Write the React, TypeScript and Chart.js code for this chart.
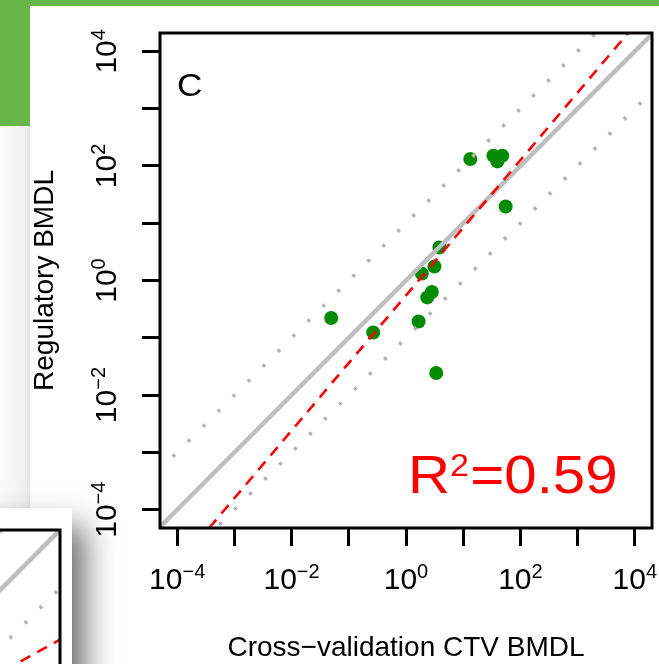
import React, { useEffect, useRef } from "react";
import { Chart, registerables } from "chart.js";

Chart.register(...registerables);

// ---------------- data: panel C ----------------
const ctvBmdl = [0.0492, 0.267, 1.66, 3.37, 2.35, 2.83, 1.89, 3.14, 3.84, 55.2, 13.3, 33.7, 48.2, 39.5];
const regulatoryBmdl = [0.221, 0.124, 0.193, 0.0243, 0.507, 0.63, 1.32, 1.76, 3.78, 19.6, 132, 151, 151, 120];
const tickExponents = [-4, -3, -2, -1, 0, 1, 2, 3, 4];
const labelExponents = [-4, -2, 0, 2, 4];
const xExpRange = [-4.3, 4.3];
const yExpRange = [-4.32, 4.32];
const fitSlope = 1.18;
const fitIntercept = -0.26;
const foldBand = 1; // decades above / below identity
const rSquaredValue = "0.59";
const panelLetter = "C";
const xTitle = "Cross\u2212validation CTV BMDL";
const yTitle = "Regulatory BMDL";

// ---------------- data: neighbouring panel fragment ----------------
const fragXExpRange = [-4.1, 4.3];
const fragYExpRange = [-2.2, 4.3];
const fragFitSlope = 0.55;
const fragFitIntercept = 0.05;

const FONT = '"Liberation Sans", Arial, Helvetica, sans-serif';
const GREEN = "#68b64b";
const POINT_GREEN = "#008b00";
const GRAY = "#bebebe";
const DOT_GRAY = "#b4b4b4";
const DOT_DASH = [3.2, 18];

const p = (e: number) => Math.pow(10, e);

function drawPower(ctx: CanvasRenderingContext2D, exp: number, baseSize: number, supSize: number, raise: number) {
  const base = "10";
  const sup = exp < 0 ? "\u2212" + Math.abs(exp) : String(exp);
  ctx.font = `${baseSize}px ${FONT}`;
  const wb = ctx.measureText(base).width;
  ctx.font = `${supSize}px ${FONT}`;
  const ws = ctx.measureText(sup).width;
  const start = -(wb + ws) / 2;
  ctx.textAlign = "left";
  ctx.textBaseline = "alphabetic";
  ctx.fillStyle = "#000";
  ctx.font = `${baseSize}px ${FONT}`;
  ctx.fillText(base, start, 0);
  ctx.font = `${supSize}px ${FONT}`;
  ctx.fillText(sup, start + wb, -raise);
}

const framePlugin = {
  id: "frame",
  afterDatasetsDraw(chart: any) {
    const { ctx, chartArea: a } = chart;
    ctx.save();
    ctx.strokeStyle = "#000";
    ctx.lineWidth = 3;
    ctx.strokeRect(a.left, a.top, a.right - a.left, a.bottom - a.top);
    ctx.restore();
  },
};

const textPlugin = {
  id: "panelText",
  afterDraw(chart: any) {
    const { ctx, chartArea: a, scales } = chart;
    const xs = scales.x;
    const ys = scales.y;
    ctx.save();
    for (const e of labelExponents) {
      const px = xs.getPixelForValue(p(e));
      ctx.save();
      ctx.translate(px, a.bottom + 61);
      drawPower(ctx, e, 30, 20, 11);
      ctx.restore();
      const py = ys.getPixelForValue(p(e));
      ctx.save();
      ctx.translate(a.left - 44, py);
      ctx.rotate(-Math.PI / 2);
      drawPower(ctx, e, 30, 20, 11);
      ctx.restore();
    }
    // axis titles
    ctx.fillStyle = "#000";
    ctx.font = `28px ${FONT}`;
    ctx.textAlign = "center";
    ctx.textBaseline = "alphabetic";
    ctx.fillText(xTitle, (a.left + a.right) / 2, a.bottom + 128);
    ctx.save();
    ctx.translate(a.left - 107, (a.top + a.bottom) / 2);
    ctx.rotate(-Math.PI / 2);
    ctx.fillText(yTitle, 0, 0);
    ctx.restore();
    // panel letter
    ctx.save();
    ctx.translate(a.left + 17, a.top + 63);
    ctx.scale(1.1, 1);
    ctx.textAlign = "left";
    ctx.font = `32px ${FONT}`;
    ctx.fillText(panelLetter, 0, 0);
    ctx.restore();
    // R^2
    ctx.save();
    ctx.translate(a.right - 244, a.bottom - 35);
    ctx.scale(1.1, 1);
    ctx.fillStyle = "#ff0000";
    ctx.textAlign = "left";
    ctx.font = `53px ${FONT}`;
    const wR = ctx.measureText("R").width;
    ctx.fillText("R", 0, 0);
    ctx.font = `31px ${FONT}`;
    const w2 = ctx.measureText("2").width;
    ctx.fillText("2", wR, -17);
    ctx.font = `53px ${FONT}`;
    ctx.fillText("=" + rSquaredValue, wR + w2 + 1, 0);
    ctx.restore();
    ctx.restore();
  },
};

function lineDs(data: { x: number; y: number }[], color: string, width: number, dash: number[], offset: number, order: number) {
  return {
    type: "scatter",
    data,
    showLine: true,
    pointRadius: 0,
    pointHoverRadius: 0,
    borderColor: color,
    borderWidth: width,
    borderDash: dash,
    borderDashOffset: offset,
    borderCapStyle: "butt",
    tension: 0,
    order,
  };
}

function mainConfig(): any {
  const [x0, x1] = xExpRange;
  const [y0, y1] = yExpRange;
  const points = ctvBmdl.map((x, i) => ({ x, y: regulatoryBmdl[i] }));
  const identity = [
    { x: p(y0), y: p(y0) },
    { x: p(y1), y: p(y1) },
  ];
  const upper = [
    { x: p(x0), y: p(x0 + foldBand) },
    { x: p(y1 - foldBand), y: p(y1) },
  ];
  const lower = [
    { x: p(y0 + foldBand), y: p(y0) },
    { x: p(x1), y: p(x1 - foldBand) },
  ];
  const fa = (y0 - fitIntercept) / fitSlope;
  const fb = (y1 - fitIntercept) / fitSlope;
  const fit = [
    { x: p(fa), y: p(fitSlope * fa + fitIntercept) },
    { x: p(fb), y: p(fitSlope * fb + fitIntercept) },
  ];
  return {
    type: "scatter",
    data: {
      datasets: [
        {
          data: points,
          backgroundColor: POINT_GREEN,
          borderWidth: 0,
          pointRadius: 7,
          pointHoverRadius: 7,
          order: 5,
        },
        lineDs(identity, GRAY, 4.5, [], 0, 4),
        lineDs(upper, DOT_GRAY, 3.6, DOT_DASH, 3, 3),
        lineDs(lower, DOT_GRAY, 3.6, DOT_DASH, 16.5, 3),
        lineDs(fit, "#ff0000", 2.6, [11, 8], 0, 2),
      ],
    },
    options: {
      animation: false,
      responsive: false,
      devicePixelRatio: 1,
      events: [],
      layout: { padding: { left: 142, top: 33, right: 4, bottom: 0 } },
      plugins: { legend: { display: false }, tooltip: { enabled: false } },
      scales: {
        x: {
          type: "logarithmic",
          position: "bottom",
          min: p(x0),
          max: p(x1),
          afterBuildTicks: (s: any) => {
            s.ticks = tickExponents.map((e) => ({ value: p(e) }));
          },
          afterFit: (s: any) => {
            s.height = 136;
          },
          ticks: { display: false },
          grid: { display: true, drawOnChartArea: false, drawTicks: true, tickLength: 18, tickWidth: 3, tickColor: "#000" },
          border: { display: false },
        },
        y: {
          type: "logarithmic",
          position: "left",
          min: p(y0),
          max: p(y1),
          afterBuildTicks: (s: any) => {
            s.ticks = tickExponents.map((e) => ({ value: p(e) }));
          },
          afterFit: (s: any) => {
            s.width = 18;
          },
          ticks: { display: false },
          grid: { display: true, drawOnChartArea: false, drawTicks: true, tickLength: 18, tickWidth: 3, tickColor: "#000" },
          border: { display: false },
        },
      },
    },
    plugins: [framePlugin, textPlugin],
  };
}

function fragConfig(): any {
  const [x0, x1] = fragXExpRange;
  const [y0, y1] = fragYExpRange;
  const identity = [
    { x: p(x1), y: p(x1) },
    { x: p(y0), y: p(y0) },
  ];
  const lower = [
    { x: p(x1), y: p(x1 - 1) },
    { x: p(y0 + 1), y: p(y0) },
  ];
  const upper = [
    { x: p(y1 - 1), y: p(y1) },
    { x: p(x0), y: p(x0 + 1) },
  ];
  const fit = [
    { x: p(x1), y: p(fragFitSlope * x1 + fragFitIntercept) },
    { x: p(x0), y: p(fragFitSlope * x0 + fragFitIntercept) },
  ];
  return {
    type: "scatter",
    data: {
      datasets: [
        lineDs(identity, GRAY, 4.5, [], 0, 4),
        lineDs(lower, DOT_GRAY, 3.6, DOT_DASH, 17, 3),
        lineDs(upper, DOT_GRAY, 3.6, DOT_DASH, 0, 3),
        lineDs(fit, "#ff0000", 2.6, [11, 8], 4, 2),
      ],
    },
    options: {
      animation: false,
      responsive: false,
      devicePixelRatio: 1,
      events: [],
      layout: { padding: { left: 0, top: 22, right: 12, bottom: 0 } },
      plugins: { legend: { display: false }, tooltip: { enabled: false } },
      scales: {
        x: { type: "logarithmic", display: false, min: p(x0), max: p(x1) },
        y: { type: "logarithmic", display: false, min: p(y0), max: p(y1) },
      },
    },
    plugins: [framePlugin],
  };
}

export default function App() {
  const mainRef = useRef<HTMLCanvasElement>(null);
  const fragRef = useRef<HTMLCanvasElement>(null);
  useEffect(() => {
    const main = new Chart(mainRef.current as HTMLCanvasElement, mainConfig());
    const frag = new Chart(fragRef.current as HTMLCanvasElement, fragConfig());
    return () => {
      main.destroy();
      frag.destroy();
    };
  }, []);
  return (
    <div
      style={{
        position: "fixed",
        left: 0,
        top: 0,
        width: 659,
        height: 664,
        overflow: "hidden",
        background: "#fff",
      }}
    >
      <div style={{ position: "absolute", left: 0, top: 0, width: 659, height: 6, background: GREEN }} />
      <div style={{ position: "absolute", left: 0, top: 0, width: 30, height: 126, background: GREEN }} />
      <div
        style={{
          position: "absolute",
          left: 0,
          top: 126,
          width: 30,
          height: 420,
          background: "linear-gradient(to right, #fbfbfb 0%, #f4f4f4 55%, #eeeeee 88%, #e2e2e2 100%)",
        }}
      />
      <div
        style={{
          position: "absolute",
          left: -428,
          top: 508,
          width: 500,
          height: 400,
          background: "#fff",
          boxShadow: "12px 18px 30px rgba(0,0,0,0.6)",
        }}
      >
        <canvas ref={fragRef} width={500} height={400} style={{ display: "block", width: 500, height: 400 }} />
      </div>
      <canvas
        ref={mainRef}
        width={659}
        height={664}
        style={{ position: "absolute", left: 0, top: 0, width: 659, height: 664 }}
      />
    </div>
  );
}
